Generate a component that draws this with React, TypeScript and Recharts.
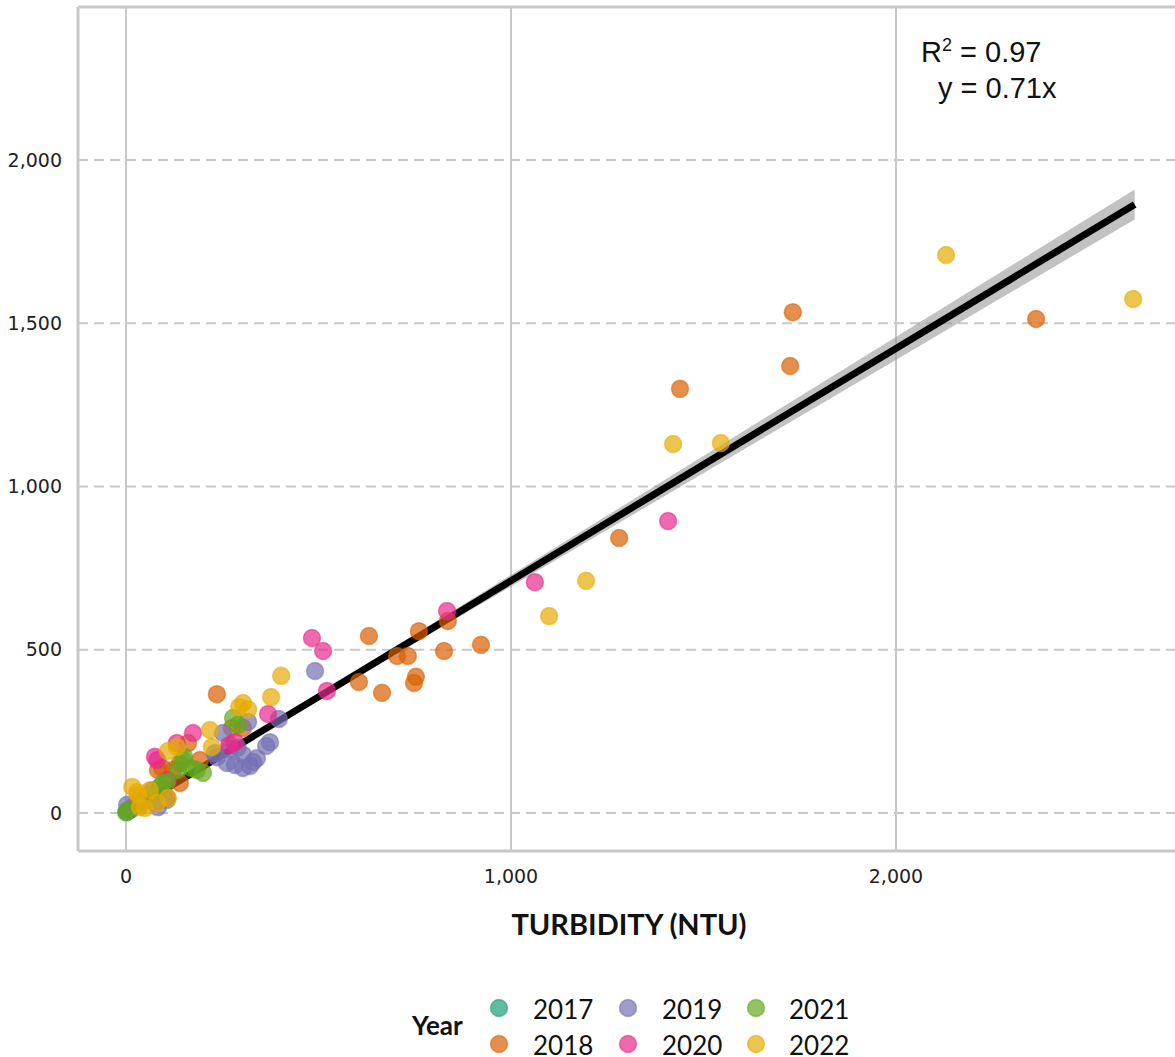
import {
  ComposedChart,
  Scatter,
  Line,
  Area,
  XAxis,
  YAxis,
  CartesianGrid,
  ReferenceLine,
} from "recharts";

const years = ["2017", "2018", "2019", "2020", "2021", "2022"];
const colors = ["#1B9E77", "#D95F02", "#7570B3", "#E7298A", "#66A61E", "#E6AB02"];

// turbidity (NTU) vs y value, one list per year
const pts2017 = [
  { x: 2, y: 3 },
  { x: 6, y: 8 },
  { x: 12, y: 10 },
];
const pts2018 = [
  { x: 2364, y: 1513 }, { x: 1732, y: 1534 }, { x: 1725, y: 1369 }, { x: 1439, y: 1299 },
  { x: 1281, y: 842 }, { x: 922, y: 515 }, { x: 836, y: 588 }, { x: 826, y: 496 },
  { x: 761, y: 557 }, { x: 753, y: 417 }, { x: 748, y: 398 }, { x: 732, y: 481 },
  { x: 704, y: 481 }, { x: 631, y: 542 }, { x: 665, y: 368 }, { x: 605, y: 401 },
  { x: 236, y: 364 }, { x: 304, y: 260 }, { x: 275, y: 260 }, { x: 161, y: 214 },
  { x: 94, y: 138 }, { x: 83, y: 132 }, { x: 140, y: 153 }, { x: 122, y: 132 },
  { x: 192, y: 162 }, { x: 106, y: 49 }, { x: 49, y: 40 }, { x: 23, y: 25 }, { x: 140, y: 92 },
];
const pts2019 = [
  { x: 491, y: 435 }, { x: 397, y: 288 }, { x: 374, y: 217 }, { x: 364, y: 205 },
  { x: 317, y: 279 }, { x: 252, y: 245 }, { x: 236, y: 171 }, { x: 262, y: 153 },
  { x: 304, y: 178 }, { x: 330, y: 156 }, { x: 304, y: 138 }, { x: 283, y: 147 },
  { x: 340, y: 168 }, { x: 322, y: 144 }, { x: 231, y: 184 }, { x: 68, y: 70 },
  { x: 75, y: 31 }, { x: 83, y: 18 }, { x: 106, y: 40 }, { x: 36, y: 25 },
  { x: 3, y: 25 }, { x: 10, y: 9 }, { x: 290, y: 200 }, { x: 268, y: 195 },
];
const pts2020 = [
  { x: 1408, y: 894 }, { x: 1062, y: 707 }, { x: 834, y: 619 }, { x: 483, y: 536 },
  { x: 512, y: 496 }, { x: 522, y: 374 }, { x: 369, y: 303 }, { x: 283, y: 217 },
  { x: 268, y: 208 }, { x: 174, y: 245 }, { x: 132, y: 214 }, { x: 75, y: 172 },
  { x: 81, y: 162 }, { x: 109, y: 101 }, { x: 36, y: 40 },
];
const pts2021 = [
  { x: 278, y: 291 }, { x: 291, y: 270 }, { x: 151, y: 172 }, { x: 148, y: 162 },
  { x: 135, y: 132 }, { x: 184, y: 132 }, { x: 200, y: 123 }, { x: 169, y: 138 },
  { x: 96, y: 92 }, { x: 88, y: 80 }, { x: 106, y: 95 }, { x: 62, y: 55 },
  { x: 36, y: 25 }, { x: 5, y: 9 }, { x: 0, y: 2 },
];
const pts2022 = [
  { x: 2130, y: 1709 }, { x: 2616, y: 1574 }, { x: 1421, y: 1130 }, { x: 1545, y: 1133 },
  { x: 1195, y: 711 }, { x: 1099, y: 603 }, { x: 403, y: 420 }, { x: 377, y: 355 },
  { x: 304, y: 337 }, { x: 317, y: 318 }, { x: 294, y: 325 }, { x: 218, y: 254 },
  { x: 223, y: 202 }, { x: 132, y: 202 }, { x: 109, y: 190 }, { x: 16, y: 80 },
  { x: 29, y: 64 }, { x: 31, y: 55 }, { x: 81, y: 31 }, { x: 49, y: 15 },
  { x: 36, y: 18 }, { x: 109, y: 46 }, { x: 62, y: 70 },
];
const series = [pts2017, pts2018, pts2019, pts2020, pts2021, pts2022];

// fitted line y = 0.71x and its confidence band
const fitX = [0, 2620];
const fitY = [0, 1864];
const bandLow = [0, 1818];
const bandHigh = [0, 1910];
const fitData = fitX.map((x, i) => ({ x, y: fitY[i], band: [bandLow[i], bandHigh[i]] }));

const xTicks = [0, 1000, 2000];
const yTicks = [0, 500, 1000, 1500, 2000];

const X_MIN = -124.7;
const X_MAX = 2737.7;
const Y_MIN = -116.4;
const Y_MAX = 2468.6;

const fmt = (v: number) => v.toLocaleString("en-US");

const dot = (color: string) => (p: any) => (
  <circle
    cx={p.cx}
    cy={p.cy}
    r={8.5}
    fill={color}
    fillOpacity={0.7}
    stroke={color}
    strokeOpacity={0.55}
    strokeWidth={1.5}
  />
);

export default function App() {
  return (
    <div
      style={{
        position: "absolute",
        left: 0,
        top: 0,
        width: 1175,
        height: 1057,
        overflow: "hidden",
        background: "#fff",
      }}
    >
      <ComposedChart
        width={1180}
        height={960}
        data={fitData}
        margin={{ top: 7, right: 0, left: 8, bottom: 0 }}
      >
        <CartesianGrid horizontal={false} stroke="#c8c8c8" strokeWidth={2} />
        <CartesianGrid vertical={false} stroke="#c8c8c8" strokeWidth={2} strokeDasharray="10 6" />
        <XAxis
          dataKey="x"
          type="number"
          domain={[X_MIN, X_MAX]}
          ticks={xTicks}
          allowDataOverflow
          tickFormatter={fmt}
          height={109}
          tickLine={false}
          tickSize={0}
          tickMargin={19}
          axisLine={{ stroke: "#c8c8c8", strokeWidth: 3 }}
          tick={{ fill: "#222", fontSize: 19, fontFamily: "DejaVu Sans" }}
          label={{
            value: "TURBIDITY (NTU)",
            position: "insideBottom",
            offset: 25,
            fill: "#111",
            fontSize: 29,
            fontWeight: 700,
            fontFamily: "Lato",
          }}
        />
        <YAxis
          type="number"
          domain={[Y_MIN, Y_MAX]}
          ticks={yTicks}
          allowDataOverflow
          tickFormatter={fmt}
          width={70}
          tickLine={false}
          tickSize={0}
          tickMargin={16}
          axisLine={{ stroke: "#c8c8c8", strokeWidth: 3 }}
          tick={{ fill: "#222", fontSize: 19, fontFamily: "DejaVu Sans" }}
        />
        <ReferenceLine y={Y_MAX} stroke="#c8c8c8" strokeWidth={3} ifOverflow="visible" />
        {series.map((pts, i) => (
          <Scatter
            key={years[i]}
            name={years[i]}
            data={pts}
            dataKey="y"
            shape={dot(colors[i])}
            isAnimationActive={false}
          />
        ))}
        <Area
          dataKey="band"
          stroke="none"
          fill="#999"
          fillOpacity={0.6}
          isAnimationActive={false}
        />
        <Line
          dataKey="y"
          stroke="#000"
          strokeWidth={7}
          dot={false}
          activeDot={false}
          isAnimationActive={false}
        />
      </ComposedChart>
      <svg
        width={1175}
        height={1057}
        style={{ position: "absolute", left: 0, top: 0, pointerEvents: "none" }}
      >
        <text x={921} y={62} fontFamily="Liberation Sans" fontSize={29} fill="#111">
          R
          <tspan fontSize={18} dy={-11}>2</tspan>
          <tspan dy={11}> = 0.97</tspan>
        </text>
        <text x={938} y={98} fontFamily="Liberation Sans" fontSize={29} fill="#111">
          y = 0.71x
        </text>
        <text x={412} y={1035} fontFamily="Lato" fontWeight={700} fontSize={26} fill="#111">
          Year
        </text>
        {years.map((yr, i) => {
          const col = Math.floor(i / 2);
          const row = i % 2;
          const cx = [499, 628, 756][col];
          const tx = [533, 662, 789][col];
          const cy = row === 0 ? 1008 : 1044;
          return (
            <g key={yr}>
              <circle
                cx={cx}
                cy={cy}
                r={8.5}
                fill={colors[i]}
                fillOpacity={0.7}
                stroke={colors[i]}
                strokeOpacity={0.55}
                strokeWidth={1.5}
              />
              <text x={tx} y={cy + 11} fontFamily="Lato" fontSize={26} fill="#111">
                {yr}
              </text>
            </g>
          );
        })}
      </svg>
    </div>
  );
}
